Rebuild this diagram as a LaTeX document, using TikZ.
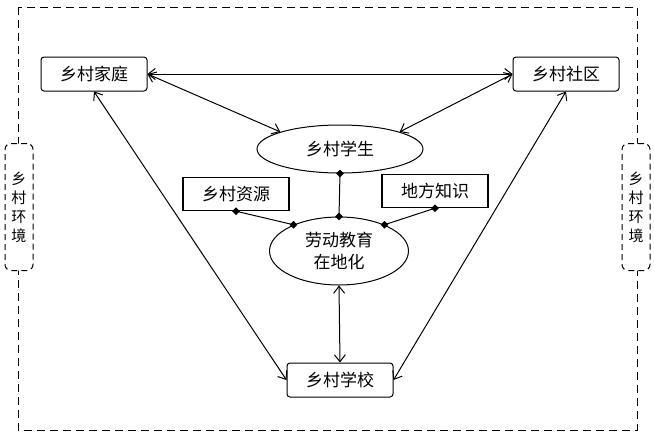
\documentclass[tikz,border=0pt]{standalone}
\usepackage{fontspec}
\setmainfont{Noto Sans CJK SC}
\usetikzlibrary{arrows.meta,shapes.geometric}
\tikzset{
  rbox/.style={draw, line width=1pt, rounded corners=3pt, minimum width=106pt, minimum height=34pt, inner sep=0pt, font=\fontsize{17}{20}\selectfont, fill=white},
  sbox/.style={draw, line width=1.4pt, minimum width=106pt, minimum height=33pt, inner sep=0pt, font=\fontsize{17}{20}\selectfont, fill=white},
  ell/.style={draw, line width=1pt, ellipse, inner sep=0pt, font=\fontsize{17}{20}\selectfont, fill=white},
  envbox/.style={draw, line width=1pt, dash pattern=on 6pt off 4pt, rounded corners=6pt, minimum width=28pt, minimum height=127pt, inner sep=0pt, fill=white, font=\fontsize{15}{19}\selectfont, align=center},
  biarrow/.style={line width=1pt, {Straight Barb[length=7pt,width=11pt]}-{Straight Barb[length=7pt,width=11pt]}},
  link/.style={line width=1pt},
  dot/.style={diamond, fill=black, inner sep=0pt, minimum size=8pt}
}
\begin{document}
\begin{tikzpicture}[x=1pt,y=-1pt]
\useasboundingbox (0,0) rectangle (654,432);
\draw[line width=1pt, dash pattern=on 8pt off 5pt] (18,7) rectangle (637,430);
\node[envbox] (envL) at (19,207) {乡\\村\\环\\境};
\node[envbox] (envR) at (636,207) {乡\\村\\环\\境};
\node[rbox] (home) at (94,74) {乡村家庭};
\node[rbox] (comm) at (566,74) {乡村社区};
\node[rbox] (school) at (340,380) {乡村学校};
\node[ell, minimum width=166pt, minimum height=48pt] (stud) at (340,149) {乡村学生};
\node[ell, minimum width=139pt, minimum height=68pt, align=center, font=\fontsize{17}{22}\selectfont] (edu) at (339,251) {劳动教育\\在地化};
\node[sbox] (res) at (236,194) {乡村资源};
\node[sbox] (know) at (435,191) {地方知识};

\draw[biarrow] (home.east) -- (comm.west);
\draw[biarrow] (home.east) -- (stud.164);
\draw[biarrow] (comm.west) -- (stud.16);
\draw[biarrow] (home.south) -- (school.west);
\draw[biarrow] (comm.south) -- (school.east);
\draw[biarrow] (edu.south) -- (school.north);

\coordinate (eduL) at (edu.150);
\coordinate (eduR) at (edu.30);
\draw[link] (stud.south) -- (edu.north);
\draw[link] (res.south) -- (eduL);
\draw[link] (know.south) -- (eduR);
\node[dot] (d1) at (stud.south) {};
\node[dot] (d2) at (edu.north) {};
\node[dot] (d3) at (res.south) {};
\node[dot] (d4) at (eduL) {};
\node[dot] (d5) at (know.south) {};
\node[dot] (d6) at (eduR) {};
\end{tikzpicture}
\end{document}
